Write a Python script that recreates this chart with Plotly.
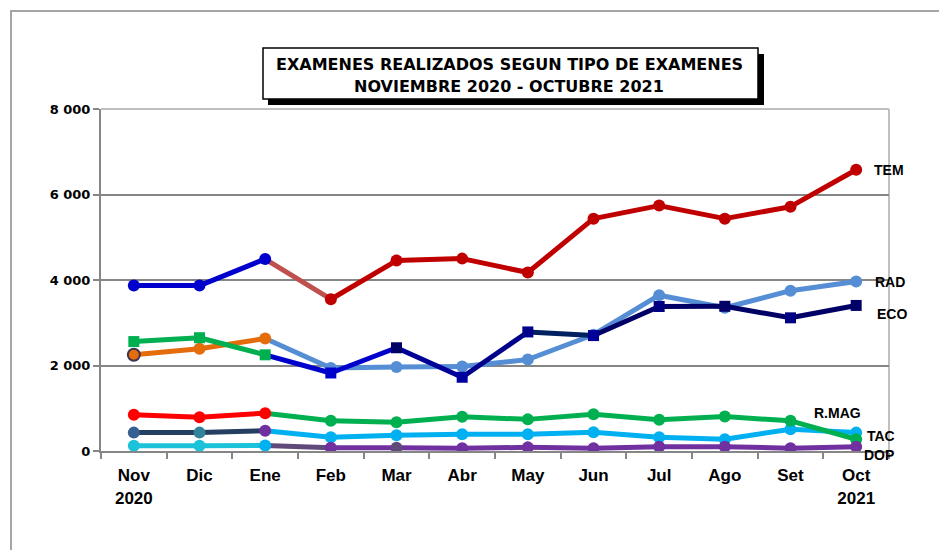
import plotly.graph_objects as go

# ---------------- data ----------------
months = ["Nov<br>2020", "Dic", "Ene", "Feb", "Mar", "Abr", "May", "Jun", "Jul", "Ago", "Set", "Oct<br>2021"]
tem = [3870, 3870, 4490, 3550, 4455, 4500, 4175, 5435, 5740, 5435, 5715, 6580]
rad = [2250, 2390, 2630, 1940, 1965, 1975, 2140, 2720, 3645, 3350, 3750, 3965]
eco = [2560, 2650, 2250, 1825, 2415, 1725, 2785, 2700, 3380, 3385, 3115, 3405]
rmag = [850, 790, 885, 710, 675, 800, 740, 860, 730, 805, 705, 275]
tac = [430, 430, 475, 320, 370, 390, 390, 440, 320, 275, 510, 430]
dop = [125, 125, 130, 75, 75, 65, 85, 65, 100, 100, 65, 100]
y_ticks = [0, 2000, 4000, 6000, 8000]
y_tick_labels = ["0", "2 000", "4 000", "6 000", "8 000"]
title_lines = ["EXAMENES REALIZADOS SEGUN TIPO DE EXAMENES", "NOVIEMBRE 2020 - OCTUBRE 2021"]

# ---------------- styles ----------------
FONT = "Liberation Sans, Arial, sans-serif"
WIDE = "DejaVu Sans, Verdana, sans-serif"
W, H = 947, 550
OFF = 8  # page body margin
ML, MT = 101 - OFF, 109 - OFF
MR = W - (889 - OFF)
MB = H - (451 - OFF)


def px_x(p):
    # reference page pixel -> paper coordinate
    return (p - OFF - ML) / (W - ML - MR)


def px_y(p):
    return (H - MB - (p - OFF)) / (H - MT - MB)


BLUE = "#0000CC"
styles = {
    "TEM": dict(
        seg=[BLUE, BLUE, "#C0504D"] + ["#C00000"] * 8,
        mk=[BLUE, BLUE, BLUE] + ["#C00000"] * 9,
        sym="circle"),
    "RAD": dict(
        seg=["#E46C0A", "#E46C0A"] + ["#558ED5"] * 9,
        mk=["#E46C0A"] * 3 + ["#558ED5"] * 9,
        sym="circle"),
    "ECO": dict(
        seg=["#00B050", "#00B050", BLUE, BLUE, "#000099", "#00008B", "#002060",
             "#000066", "#000066", "#000066", "#000066"],
        mk=["#00B050"] * 3 + [BLUE, "#000066", "#0000A0", "#00008B", "#000099",
                              "#000080", "#000066", "#000080", "#000066"],
        sym="square"),
    "TAC": dict(
        seg=["#243F60", "#243F60"] + ["#00B0F0"] * 9,
        mk=["#366092", "#31849B", "#7030A0"] + ["#00B0F0"] * 9,
        sym="circle"),
    "R.MAG": dict(
        seg=["#FF0000", "#FF0000"] + ["#00B050"] * 9,
        mk=["#FF0000"] * 3 + ["#00B050"] * 9,
        sym="circle"),
    "DOP": dict(
        seg=["#1CC3D8", "#1CC3D8", "#604A7B"] + ["#7030A0"] * 8,
        mk=["#1CC3D8", "#1CC3D8", "#00B0F0", "#7030A0", "#604A7B"] + ["#7030A0"] * 7,
        sym="circle"),
}

series = [("TEM", tem), ("RAD", rad), ("ECO", eco), ("TAC", tac), ("R.MAG", rmag), ("DOP", dop)]

fig = go.Figure()
for name, vals in series:
    st = styles[name]
    for i in range(len(vals) - 1):
        fig.add_trace(go.Scatter(
            x=[months[i], months[i + 1]], y=[vals[i], vals[i + 1]],
            mode="lines", line=dict(color=st["seg"][i], width=5),
            showlegend=False, hoverinfo="skip"))
    mline = dict(width=0)
    if name == "RAD":
        mline = dict(width=[2] + [0] * 11, color="#3F3151")
    fig.add_trace(go.Scatter(
        x=months, y=vals, mode="markers", name=name,
        marker=dict(color=st["mk"], size=12 if st["sym"] == "circle" else 11,
                    symbol=st["sym"], line=mline),
        showlegend=False))

# series labels at the right end
label_pos = {
    "TEM": (16, 0),
    "RAD": (17, 0),
    "ECO": (19, -9),
    "R.MAG": (-44, 26),
    "TAC": (9, -3),
    "DOP": (6, -8),
}
for name, vals in series:
    xs, ys = label_pos[name]
    fig.add_annotation(x=months[-1], y=vals[-1], text="<b>%s</b>" % name,
                       showarrow=False, xanchor="left", yanchor="middle",
                       xshift=xs, yshift=ys,
                       font=dict(family=FONT, size=14, color="black"))

shapes = [
    # outer chart border
    dict(type="rect", xref="paper", yref="paper",
         x0=px_x(11), x1=px_x(W + 30), y0=px_y(H + 30), y1=px_y(11),
         line=dict(color="#A6A6A6", width=2), fillcolor="rgba(0,0,0,0)", layer="below"),
    # plot area top/right border
    dict(type="line", xref="paper", yref="paper", x0=0, x1=1, y0=1, y1=1,
         line=dict(color="#C0C0C0", width=2), layer="below"),
    dict(type="line", xref="paper", yref="paper", x0=1, x1=1, y0=0, y1=1,
         line=dict(color="#C0C0C0", width=2), layer="below"),
    # title shadow + box
    dict(type="rect", xref="paper", yref="paper",
         x0=px_x(268), x1=px_x(764), y0=px_y(105), y1=px_y(54),
         line=dict(width=0), fillcolor="black"),
    dict(type="rect", xref="paper", yref="paper",
         x0=px_x(263), x1=px_x(758), y0=px_y(99), y1=px_y(48),
         line=dict(color="black", width=1.5), fillcolor="white"),
]

fig.add_annotation(xref="paper", yref="paper", x=px_x(509), y=px_y(64),
                   text="<b>%s</b>" % title_lines[0], showarrow=False,
                   xanchor="center", yanchor="middle",
                   font=dict(family=WIDE, size=16, color="black"))
fig.add_annotation(xref="paper", yref="paper", x=px_x(509), y=px_y(86),
                   text="<b>%s</b>" % title_lines[1], showarrow=False,
                   xanchor="center", yanchor="middle",
                   font=dict(family=WIDE, size=16, color="black"))

fig.update_layout(
    width=W, height=H,
    margin=dict(l=ML, r=MR, t=MT, b=MB),
    paper_bgcolor="white", plot_bgcolor="white",
    shapes=shapes,
    xaxis=dict(type="category", range=[-0.5, 11.5], showgrid=False,
               showline=True, linecolor="#868686", linewidth=2,
               ticks="outside", tickson="boundaries", ticklen=6,
               tickcolor="#868686", tickwidth=2, ticklabelstandoff=8,
               tickfont=dict(family=FONT, size=17, color="black"),
               tickprefix="<b>", ticksuffix="</b>", zeroline=False),
    yaxis=dict(range=[0, 8000], tickvals=y_ticks, ticktext=["<b>%s</b>" % t for t in y_tick_labels],
               showgrid=True, gridcolor="#868686", gridwidth=2,
               showline=True, linecolor="#868686", linewidth=2,
               ticks="outside", ticklen=6, tickcolor="#868686", tickwidth=2,
               tickfont=dict(family=WIDE, size=13, color="black"),
               zeroline=False),
)

fig.write_html("out.html")
